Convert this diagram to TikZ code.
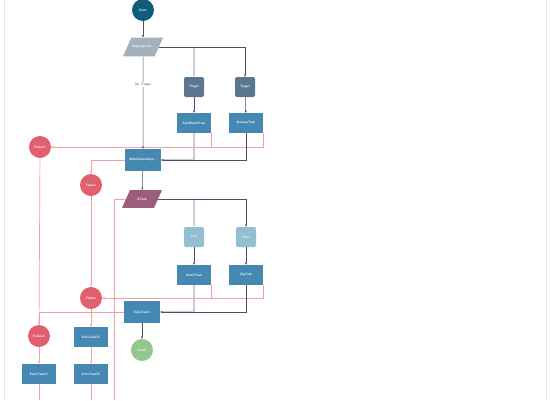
\documentclass[tikz,border=0pt]{standalone}
\usepackage{tikz}
\usetikzlibrary{arrows.meta, shapes.geometric}

\definecolor{startcol}{HTML}{0E5D7A}
\definecolor{speccol}{HTML}{A3B1BD}
\definecolor{targetcol}{HTML}{5A7690}
\definecolor{taskcol}{HTML}{4588B1}
\definecolor{failcol}{HTML}{E06070}
\definecolor{ifcol}{HTML}{9C5C7C}
\definecolor{truecol}{HTML}{93BFD3}
\definecolor{finishcol}{HTML}{92C78E}
\definecolor{okcol}{HTML}{4B4F6B}
\definecolor{okgraycol}{HTML}{C9CCD6}
\definecolor{badcol}{HTML}{F2A0A8}
\definecolor{framecol}{HTML}{E6E6E6}

\begin{document}
\begin{tikzpicture}[x=1pt,y=-1pt,
    lbl/.style={text=white,font=\sffamily\bfseries\fontsize{3.3}{4}\selectfont,inner sep=0pt},
    roundnode/.style={lbl,circle,minimum size=22pt},
    task/.style={lbl,rectangle,fill=taskcol,minimum width=34pt,minimum height=20pt},
    cond/.style={lbl,rectangle,rounded corners=2pt,minimum width=20pt,minimum height=20pt},
    para/.style={lbl,trapezium,trapezium left angle=66,trapezium right angle=114,trapezium stretches body,minimum width=40pt,inner ysep=7.8pt},
    tip/.style={-{Stealth[length=2.5pt,width=2.2pt]}},
    ok/.style={tip,draw=okcol,line width=0.5pt},
    okgray/.style={tip,draw=okgraycol,line width=1.3pt},
    bad/.style={tip,draw=badcol,line width=0.7pt}]

    \useasboundingbox (0,0) rectangle (550,400);
    \draw[framecol,line width=0.6pt](4,0)--(4,400) (546,0)--(546,400);%枠

    %ノード
    \node[roundnode,fill=startcol](start) at (143,10){Start};
    \node[para,fill=speccol](spec) at (143,47){StopeSpecifi...};
    \node[cond,fill=targetcol](tgtA) at (194,87){Target};
    \node[cond,fill=targetcol](tgtB) at (245,87){Target};
    \node[task](send) at (194,123){SendEmailTask};
    \node[task](backup) at (246,123){BackupTask};
    \node[task,minimum width=36pt,minimum height=22pt](wsd) at (143,160){WebSphereDepl...};
    \node[roundnode,fill=failcol](failA) at (40,147){Failure1};
    \node[roundnode,fill=failcol](failB) at (91,185){Failure};
    \node[para,fill=ifcol](iftask) at (142,199){IfTask};
    \node[cond,fill=truecol](ctrue) at (194,237){true};
    \node[cond,fill=truecol](cfalse) at (246,237){false};
    \node[task](getof) at (194,275){GetOfTask};
    \node[task](zip) at (246,275){ZipTask};
    \node[roundnode,fill=failcol](failC) at (91,298){Failure};
    \node[task,minimum width=36pt,minimum height=22pt](echoA) at (142,312){EchoTask1};
    \node[roundnode,fill=finishcol](finish) at (142,350){Finish};
    \node[roundnode,fill=failcol](failD) at (39,336){Failure1};
    \node[task](echoBA) at (91,337){EchoTask21};
    \node[task](echoAA) at (39,374){EchoTask11};
    \node[task](echoBB) at (91,374){EchoTask22};

    %画面の外へ出る線の端
    \coordinate (ifout) at (114,400);
    \coordinate (outAA) at (39,400);
    \coordinate (outBB) at (91,400);

    %失敗の線（ピンク）
    \draw[bad](send.south east)|-(failA.east);
    \draw[bad](backup.south east)|-(failA.east);
    \draw[bad](wsd.west)-|(failB.north);
    \draw[bad](failB)--(failC);
    \draw[bad](failA)--(failD);
    \draw[bad,-](iftask.west)-|(ifout);
    \draw[bad](getof.south east)|-(failC.east);
    \draw[bad](zip.south east)|-(failC.east);
    \draw[bad](echoA.west)-|(failD.north);
    \draw[bad](failC)--(echoBA);
    \draw[bad](failD)--(echoAA);
    \draw[bad](echoBA)--(echoBB);
    \draw[bad,-](echoAA)--(outAA);
    \draw[bad,-](echoBB)--(outBB);

    %成功の線
    \draw[ok](start)--(spec);
    \draw[ok](spec)--node[pos=0.3,fill=white,inner sep=1pt,text=okcol,font=\sffamily\fontsize{3.5}{4}\selectfont]{No Target}(wsd);
    \draw[okgray](spec.east -| tgtA.north)--(tgtA.north);
    \draw[ok](spec.east)-|(tgtB.north);
    \draw[ok](tgtA)--(send);
    \draw[ok](tgtB)--(backup);
    \draw[okgray](send.south)|-(wsd.east);
    \draw[ok](backup.south)|-(wsd.east);
    \draw[ok](wsd)--(iftask);
    \draw[okgray](iftask.east -| ctrue.north)--(ctrue.north);
    \draw[ok](iftask.east)-|(cfalse.north);
    \draw[ok](ctrue)--(getof);
    \draw[ok](cfalse)--(zip);
    \draw[okgray](getof.south)|-(echoA.east);
    \draw[ok](zip.south)|-(echoA.east);
    \draw[ok](echoA)--(finish);
\end{tikzpicture}
\end{document}
